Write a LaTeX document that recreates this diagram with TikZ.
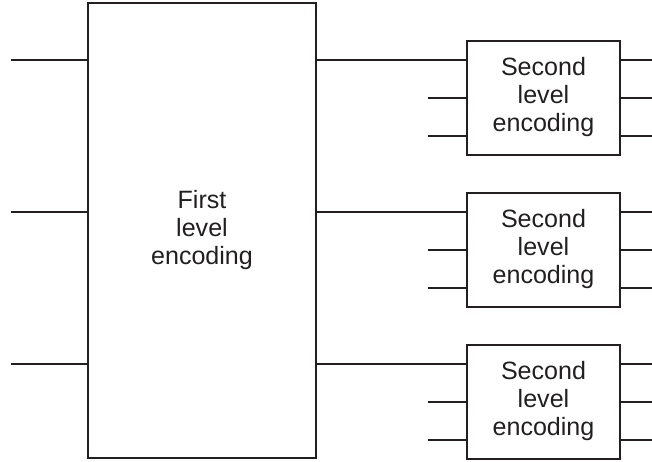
\documentclass[tikz,border=0pt]{standalone}
\usepackage{fontspec}
\setmainfont{Liberation Sans}
\usetikzlibrary{positioning}
\definecolor{ink}{HTML}{231F20}

\begin{document}
\begin{tikzpicture}[x=0.75pt,y=-0.75pt,line width=1.5pt,color=ink,font=\fontsize{18.8}{21}\selectfont,
big/.style={draw,align=center,minimum width=171pt,minimum height=341.25pt},
enc/.style={draw,align=center,minimum width=114.75pt,minimum height=85.5pt,inner sep=0pt}]
\useasboundingbox (0,0) rectangle (652,461);
\node[big] (first) at (202,230.5) {First\\level\\encoding};
\node[enc] (sec1) at (543.5,97.5) {Second\\level\\encoding};
\node[enc,below=27pt of sec1] (sec2) {Second\\level\\encoding};
\node[enc,below=27pt of sec2] (sec3) {Second\\level\\encoding};
\coordinate (lft) at (11,0); \coordinate (rgt) at (652,0);
\foreach \s in {sec1,sec2,sec3}{
  \coordinate (\s-l1) at ([yshift=28.5pt]\s.west); \coordinate (\s-l2) at (\s.west); \coordinate (\s-l3) at ([yshift=-28.5pt]\s.west);
  \coordinate (\s-r1) at ([yshift=28.5pt]\s.east); \coordinate (\s-r2) at (\s.east); \coordinate (\s-r3) at ([yshift=-28.5pt]\s.east);
  \draw (\s-l1 -| lft)--(\s-l1 -| first.west); \draw (\s-l1 -| first.east)--(\s-l1);
  \draw ([xshift=-28.5pt]\s-l2)--(\s-l2); \draw ([xshift=-28.5pt]\s-l3)--(\s-l3);
  \draw (\s-r1)--(\s-r1 -| rgt); \draw (\s-r2)--(\s-r2 -| rgt); \draw (\s-r3)--(\s-r3 -| rgt);
}
\end{tikzpicture}
\end{document}
